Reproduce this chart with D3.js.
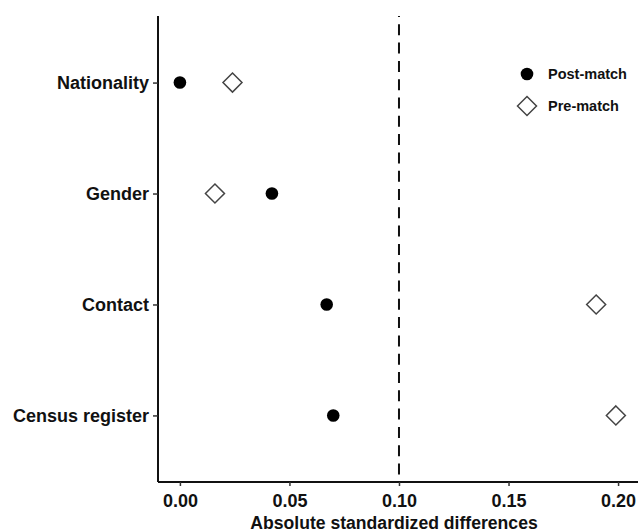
<!DOCTYPE html>
<html>
<head>
<meta charset="utf-8">
<script src="https://cdn.jsdelivr.net/npm/d3@7"></script>
<style>
body { margin: 0; background: #fff; }
text { font-family: "Liberation Sans", Arial, sans-serif; font-weight: bold; fill: #111; }
</style>
</head>
<body>
<div id="chart"></div>
<script>
var categories = ["Nationality", "Gender", "Contact", "Census register"];
var postMatch = [0.000, 0.042, 0.067, 0.070];
var preMatch = [0.024, 0.016, 0.190, 0.199];
var xTicks = [0, 0.05, 0.10, 0.15, 0.20];
var threshold = 0.10;

var width = 638, height = 532;
var mLeft = 158, mTop = 16, mRight = 638, mBottom = 482;

var svg = d3.select("#chart").append("svg")
    .attr("width", width)
    .attr("height", height);

var x = d3.scaleLinear()
    .domain([-0.01, 0.2091])
    .range([mLeft, mRight]);

// discrete axis, ggplot-style 0.6 expansion
var y = d3.scaleLinear()
    .domain([0.4, 4.6])
    .range([mTop, mBottom]);

// axes
var xAxis = svg.append("g")
    .attr("transform", "translate(0," + mBottom + ")")
    .call(d3.axisBottom(x).tickValues(xTicks).tickSize(4).tickSizeOuter(0)
        .tickFormat(d3.format(".2f")));
xAxis.select(".domain").attr("stroke", "#111").attr("stroke-width", 2)
    .attr("d", "M" + mLeft + ",0H" + mRight);
xAxis.selectAll(".tick line").attr("stroke", "#333").attr("stroke-width", 1.5);
xAxis.selectAll(".tick text").attr("dy", null).attr("y", 25)
    .style("font-size", "18px").style("font-family", null);

var yAxis = svg.append("g")
    .attr("transform", "translate(" + mLeft + ",0)")
    .call(d3.axisLeft(y).tickValues([1, 2, 3, 4]).tickSize(5).tickSizeOuter(0)
        .tickFormat(function(d) { return categories[d - 1]; }));
yAxis.select(".domain").attr("stroke", "#111").attr("stroke-width", 2)
    .attr("d", "M0," + mTop + "V" + mBottom);
yAxis.selectAll(".tick line").attr("stroke", "#333").attr("stroke-width", 1.5);
yAxis.selectAll(".tick text").attr("x", -9)
    .style("font-size", "18px").style("font-family", null);

svg.selectAll(".domain").attr("fill", "none");

// axis title
svg.append("text")
    .attr("x", (mLeft + mRight) / 2 - 4)
    .attr("y", 529)
    .attr("text-anchor", "middle")
    .style("font-size", "17.6px")
    .text("Absolute standardized differences");

// threshold line
svg.append("line")
    .attr("x1", x(threshold)).attr("x2", x(threshold))
    .attr("y1", mTop).attr("y2", mBottom)
    .attr("stroke", "#111")
    .attr("stroke-width", 2)
    .attr("stroke-dasharray", "11,7.3")
    .attr("stroke-dashoffset", 10);

var diamond = function(s) {
    return "M0," + (-s) + "L" + s + ",0L0," + s + "L" + (-s) + ",0Z";
};

// pre-match diamonds
svg.selectAll(".pre")
    .data(preMatch)
    .enter().append("path")
    .attr("class", "pre")
    .attr("transform", function(d, i) { return "translate(" + x(d) + "," + y(i + 1) + ")"; })
    .attr("d", diamond(9.5))
    .attr("fill", "#fff")
    .attr("stroke", "#444")
    .attr("stroke-width", 1.5);

// post-match dots
svg.selectAll(".post")
    .data(postMatch)
    .enter().append("circle")
    .attr("class", "post")
    .attr("cx", function(d) { return x(d); })
    .attr("cy", function(d, i) { return y(i + 1); })
    .attr("r", 6.3)
    .attr("fill", "#000");

// legend
var legend = svg.append("g").attr("transform", "translate(527,74)");
legend.append("circle").attr("cx", 0).attr("cy", 0).attr("r", 6.3).attr("fill", "#000");
legend.append("text").attr("x", 21).attr("y", 0).attr("dy", "0.35em")
    .style("font-size", "14.5px").text("Post-match");
legend.append("path").attr("transform", "translate(0,32)").attr("d", diamond(9.5))
    .attr("fill", "#fff").attr("stroke", "#444").attr("stroke-width", 1.5);
legend.append("text").attr("x", 21).attr("y", 32).attr("dy", "0.35em")
    .style("font-size", "14.5px").text("Pre-match");
</script>
</body>
</html>
